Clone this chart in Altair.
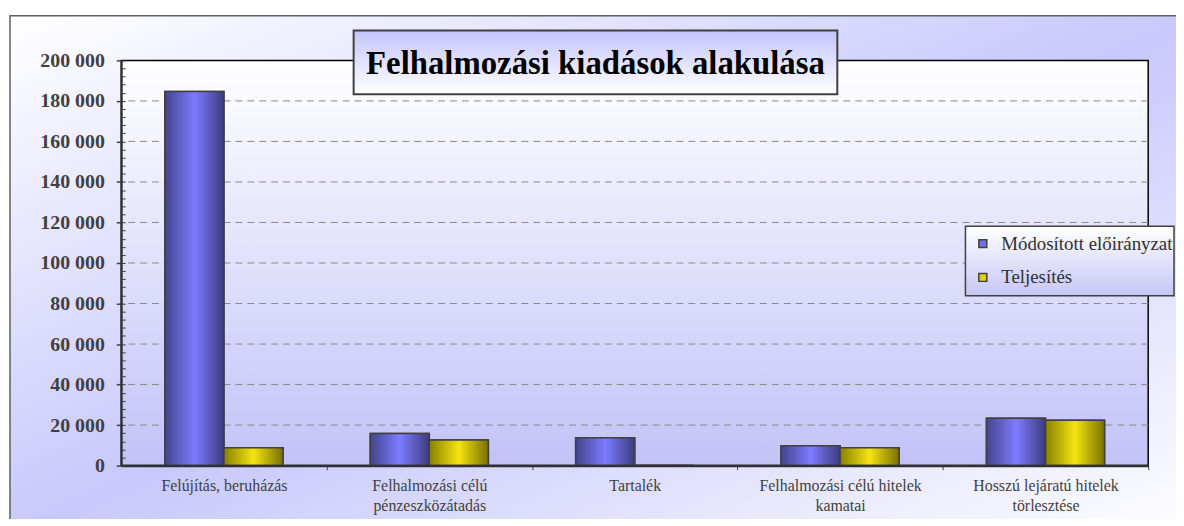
import altair as alt
import pandas as pd

categories = [
    "Felújítás, beruházás",
    "Felhalmozási célú\npénzeszközátadás",
    "Tartalék",
    "Felhalmozási célú hitelek\nkamatai",
    "Hosszú lejáratú hitelek\ntörlesztése",
]
series = ["Módosított előirányzat", "Teljesítés"]
modositott = [184600, 15900, 13700, 9800, 23400]
teljesites = [8800, 12700, 0, 8800, 22400]
y_ticks = list(range(0, 200001, 20000))
y_minor = list(range(0, 200001, 4000))
grid_vals = y_ticks[1:-1]
title_text = "Felhalmozási kiadások alakulása"

rows = []
for c, m, t in zip(categories, modositott, teljesites):
    rows.append({"kat": c, "sor": series[0], "ertek": m})
    rows.append({"kat": c, "sor": series[1], "ertek": t})
df = pd.DataFrame(rows)
grid_df = pd.DataFrame({"ertek": grid_vals})
one = alt.Data(values=[{"a": 1}])

W, H = 1034, 408
STEP = W / len(categories)


def lin(stops, x2=0, y2=0):
    return alt.LinearGradient(
        gradient="linear",
        stops=[alt.GradientStop(color=c, offset=o) for o, c in stops],
        x1=0, y1=0, x2=x2, y2=y2,
    )


outer_grad = lin([(0, "#ffffff"), (0.5, "#c8c8fc"), (1, "#ffffff")], x2=1, y2=1)
plot_grad = lin([(0, "#ffffff"), (1, "#c2c2f8")], y2=1)
title_grad = lin([(0, "#c4c4fc"), (1, "#ffffff")], y2=1)
legend_grad = lin([(0, "#ffffff"), (1, "#c6c6f6")], y2=1)
blue_grad = lin([(0, "#44448e"), (0.5, "#7c7cff"), (1, "#3c3c80")], x2=1)
yellow_grad = lin([(0, "#8a8000"), (0.5, "#f4e412"), (1, "#7a7000")], x2=1)

yscale = alt.Scale(domain=[0, 200000], nice=False, zero=True)
xscale = alt.Scale(domain=categories, paddingInner=0.425, paddingOuter=0.2125)
xoff = alt.XOffset("sor:N", scale=alt.Scale(domain=series))

x_axis = alt.Axis(
    title=None, labelAngle=0,
    labelExpr="split(datum.label, '\\n')",
    tickOffset=STEP / 2, labelOffset=-STEP / 2,
    tickSize=4, tickColor="#404040", tickWidth=1,
    domainColor="#303030", domainWidth=2.5,
    labelFont="Liberation Serif", labelFontSize=16, labelColor="#404040",
    labelLineHeight=20, labelPadding=8, labelBaseline="top",
    grid=False, zindex=1,
)
y_axis_major = alt.Axis(
    title=None, orient="left", values=y_ticks,
    labelExpr="replace(format(datum.value, ',d'), ',', ' ')",
    labelFont="Liberation Serif", labelFontSize=20, labelFontWeight="bold",
    labelColor="#404040", labelPadding=12,
    tickSize=5, tickColor="#404040", tickWidth=1.5,
    domainColor="#303030", domainWidth=2, grid=False, zindex=1,
)
y_axis_minor = alt.Axis(
    title=None, orient="left", values=y_minor, labels=False,
    tickSize=4, tickColor="#404040", tickWidth=1, offset=-4,
    domain=False, grid=False, zindex=1,
)

xenc = alt.X("kat:N", sort=categories, scale=xscale, axis=x_axis)

frame = alt.Chart(one).mark_rect(fill=outer_grad, stroke="#606060", strokeWidth=1.5).encode(
    x=alt.value(-112), x2=alt.value(W + 60), y=alt.value(-45), y2=alt.value(H + 70)
)
plotbg = alt.Chart(one).mark_rect(fill=plot_grad, stroke="#000000", strokeWidth=1.5).encode(
    x=alt.value(0), x2=alt.value(W), y=alt.value(0), y2=alt.value(H)
)
grid = alt.Chart(grid_df).mark_rule(color="#8a8a8a", strokeDash=[7, 5], strokeWidth=1).encode(
    y=alt.Y("ertek:Q", scale=yscale, axis=None)
)
solid = alt.Chart(df).mark_bar(stroke="#404040", strokeWidth=1.5).encode(
    x=xenc,
    xOffset=xoff,
    y=alt.Y("ertek:Q", scale=yscale, axis=y_axis_major),
    color=alt.Color(
        "sor:N",
        scale=alt.Scale(domain=series, range=["#7070ee", "#e0d010"]),
        legend=alt.Legend(
            title=None, orient="none", legendX=858, legendY=175,
            symbolType="square", symbolSize=64, symbolStrokeColor="#404040",
            symbolStrokeWidth=1.5, labelFont="Liberation Serif", labelFontSize=19,
            labelColor="#303030", rowPadding=14, labelOffset=9, padding=0,
            labelLimit=400,
        ),
    ),
)
blue = alt.Chart(df).transform_filter(alt.datum.sor == series[0]).mark_bar(
    fill=blue_grad, stroke="#404040", strokeWidth=1.5
).encode(
    x=xenc,
    xOffset=xoff,
    y=alt.Y("ertek:Q", scale=yscale, axis=y_axis_minor),
)
yellow = alt.Chart(df).transform_filter(alt.datum.sor == series[1]).mark_bar(
    fill=yellow_grad, stroke="#404040", strokeWidth=1.5
).encode(
    x=xenc,
    xOffset=xoff,
    y=alt.Y("ertek:Q", scale=yscale, axis=None),
)
title_box = alt.Chart(one).mark_rect(fill=title_grad, stroke="#404040", strokeWidth=2).encode(
    x=alt.value(234), x2=alt.value(721), y=alt.value(-30), y2=alt.value(34)
)
title = alt.Chart(one).mark_text(
    text=title_text, font="Liberation Serif", fontSize=33, fontWeight="bold",
    color="#000000", align="center", baseline="middle",
).encode(x=alt.value(477.5), y=alt.value(4))
legend_box = alt.Chart(one).mark_rect(fill=legend_grad, stroke="#404040", strokeWidth=1.5).encode(
    x=alt.value(850), x2=alt.value(1060), y=alt.value(167), y2=alt.value(237)
)

chart = alt.layer(
    frame, plotbg, grid, solid, blue, yellow, title_box, title, legend_box
).resolve_axis(y="independent").resolve_scale(y="shared").properties(
    width=W, height=H,
    autosize=alt.AutoSizeParams(type="none"),
    padding={"left": 114, "top": 51, "right": 28, "bottom": 52},
).configure_view(stroke="transparent").configure(
    background="#ffffff"
).configure_legend(
    labelFont="Liberation Serif", labelFontSize=19, labelColor="#303030", labelLimit=400
)

chart.save("out.html", embed_options={"renderer": "svg", "actions": False})
